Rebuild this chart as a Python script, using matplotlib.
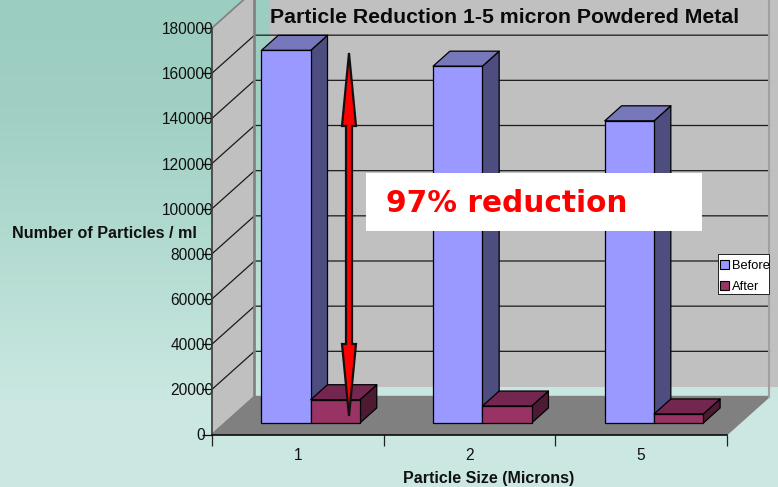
import matplotlib
matplotlib.use('Agg')
import matplotlib.pyplot as plt
import numpy as np
from matplotlib.patches import Polygon, Patch, Rectangle
from matplotlib.transforms import ScaledTranslation

plt.rcParams['font.family'] = ['Liberation Sans', 'DejaVu Sans']

categories = ['1', '2', '5']
before = [165000, 158000, 133800]
after = [10300, 7500, 4000]
series_names = ['Before', 'After']
y_ticks = [0, 20000, 40000, 60000, 80000, 100000, 120000, 140000, 160000, 180000]

W, H = 778, 487
DX = 42.5 / 171.67  # depth of the 3D box, in category units
DY = 38 / 406.5 * 180000  # same, in value units
GAP = 0.213
BAR_W = 0.287
DEPTH_START = 0.303
DEPTH_END = 0.698


def project(x, v, d):
    return x + d * DX, v + d * DY


def face(ax, points, color, edge='black', lw=0.9, z=3):
    ax.add_patch(Polygon([project(*p) for p in points], closed=True, facecolor=color,
                         edgecolor=edge, linewidth=lw, clip_on=False, zorder=z, joinstyle='round'))


def box(ax, x, v, front, side, top, z):
    x2 = x + BAR_W
    d1, d2 = DEPTH_START, DEPTH_END
    face(ax, [(x2, 0, d1), (x2, 0, d2), (x2, v, d2), (x2, v, d1)], side, z=z)
    face(ax, [(x, v, d1), (x2, v, d1), (x2, v, d2), (x, v, d2)], top, z=z)
    face(ax, [(x, 0, d1), (x2, 0, d1), (x2, v, d1), (x, v, d1)], front, z=z)


fig = plt.figure(figsize=(W / 100, H / 100), dpi=100)

# background gradient and the grey block behind the chart
bg = fig.add_axes([0, 0, 1, 1], zorder=0)
stops = np.interp(np.arange(H), [0, 120, 400, H], [0, 0.12, 1, 1])
top_col = np.array([155, 205, 192]) / 255
bot_col = np.array([202, 232, 225]) / 255
img = top_col[None, :] * (1 - stops[:, None]) + bot_col[None, :] * stops[:, None]
bg.imshow(img[:, None, :], aspect='auto', extent=[0, W, H, 0])
bg.add_patch(Rectangle((270, 0), W - 270, 387, facecolor='#c0c0c0', edgecolor='none'))
bg.set_xlim(0, W)
bg.set_ylim(H, 0)
bg.axis('off')

ax = fig.add_axes([212 / W, 1 - 434.5 / H, 515 / W, 406.5 / H], zorder=2)
ax.patch.set_visible(False)
ax.set_xlim(0, 3)
ax.set_ylim(0, 180000)

# walls and floor
face(ax, [(0, 0, 0), (0, 0, 1), (0, 180000, 1), (0, 180000, 0)], '#c0c0c0', edge='#808080', lw=1.2, z=1)
face(ax, [(0, 0, 0), (3, 0, 0), (3, 0, 1), (0, 0, 1)], '#808080', edge='#808080', lw=1, z=1)
for v in y_ticks[1:-1]:
    xs, ys = zip(project(0, v, 0), project(0, v, 1), project(3, v, 1))
    ax.plot(xs, ys, color='#1a1a1a', lw=0.9, clip_on=False, zorder=2)
xs, ys = zip(project(0, 0, 1), project(0, 180000, 1))
ax.plot(xs, ys, color='#808080', lw=1.8, clip_on=False, zorder=2)
xs, ys = zip(project(3, 0, 1), project(3, 180000, 1))
ax.plot(xs, ys, color='#a0a0a0', lw=1.5, clip_on=False, zorder=2)

for i in range(len(categories)):
    box(ax, i + GAP, before[i], '#9999ff', '#4d4d80', '#7777bb', 3)
    box(ax, i + GAP + BAR_W, after[i], '#993366', '#4d1a33', '#732650', 4)

for s in ['top', 'right']:
    ax.spines[s].set_visible(False)
ax.spines['left'].set_color('#404040')
ax.spines['left'].set_linewidth(1.1)
ax.spines['bottom'].set_color('black')
ax.spines['bottom'].set_linewidth(1.1)

ax.set_yticks(y_ticks)
ax.set_yticklabels([str(v) for v in y_ticks])
ax.tick_params(axis='y', length=7, width=0.9, pad=-8, labelsize=11.2, colors='#111111')
# the zero label sits clear of its tick
zero = ax.get_yticklabels()[0]
zero.set_transform(zero.get_transform() + ScaledTranslation(-8 / 100, 0, fig.dpi_scale_trans))

ax.set_xticks([0, 1, 2, 3])
ax.set_xticklabels([])
ax.tick_params(axis='x', which='major', length=8, width=0.9, color='#222222')
ax.set_xticks([0.5, 1.5, 2.5], minor=True)
ax.set_xticklabels(categories, minor=True)
ax.tick_params(axis='x', which='minor', length=0, pad=10, labelsize=11.2, labelcolor='#111111')

ax.set_title('Particle Reduction 1-5 micron Powdered Metal', fontsize=15.3, fontweight='bold',
             x=(505 - 212) / 515, y=(434.5 - 18) / 406.5, va='center', color='#0a0a0a', pad=0)
ax.set_ylabel('Number of Particles / ml', fontsize=11.6, fontweight='bold', rotation=0,
              ha='center', va='center', color='#111111')
ax.yaxis.set_label_coords((104.5 - 212) / 515, (434.5 - 234) / 406.5)
ax.set_xlabel('Particle Size (Microns)', fontsize=11.5, fontweight='bold', ha='center', va='center',
              color='#111111')
ax.xaxis.set_label_coords((489 - 212) / 515, -(478 - 434.5) / 406.5)

# legend frame drawn by hand, the text runs up to its right edge
ax.add_patch(Rectangle((717.5 / W, 1 - 294 / H), 51.5 / W, 40.5 / H, transform=fig.transFigure,
                       facecolor='white', edgecolor='#222222', linewidth=0.7, clip_on=False, zorder=5))
handles = [Patch(facecolor='#9999ff', edgecolor='black', linewidth=0.8),
           Patch(facecolor='#993366', edgecolor='black', linewidth=0.8)]
leg = ax.legend(handles, series_names, loc='lower right', bbox_to_anchor=(771 / W, 1 - 294.5 / H),
                bbox_transform=fig.transFigure, fontsize=9.3, frameon=False, borderpad=0.12,
                borderaxespad=0, handlelength=0.7, handleheight=0.7, handletextpad=0.2,
                labelspacing=0.7)
leg.set_zorder(6)

# annotation layer: double arrow and white label
top = fig.add_axes([0, 0, 1, 1], zorder=3)
top.patch.set_visible(False)
top.set_xlim(0, W)
top.set_ylim(H, 0)
top.axis('off')
cx = 349
arrow = [(cx, 53), (cx + 7, 126), (cx + 3, 126), (cx + 3, 344), (cx + 7, 344), (cx, 416),
         (cx - 7, 344), (cx - 3, 344), (cx - 3, 126), (cx - 7, 126)]
top.add_patch(Polygon(arrow, closed=True, facecolor='#ff0000', edgecolor='#111111', linewidth=1.6))
top.add_patch(Rectangle((366, 173), 336, 58, facecolor='white', edgecolor='none'))
top.text(386, 204, '97% reduction', fontsize=21.3, fontweight='bold', color='#ff0000',
         family='DejaVu Sans', ha='left', va='center')

fig.savefig('out.png', dpi=100)
